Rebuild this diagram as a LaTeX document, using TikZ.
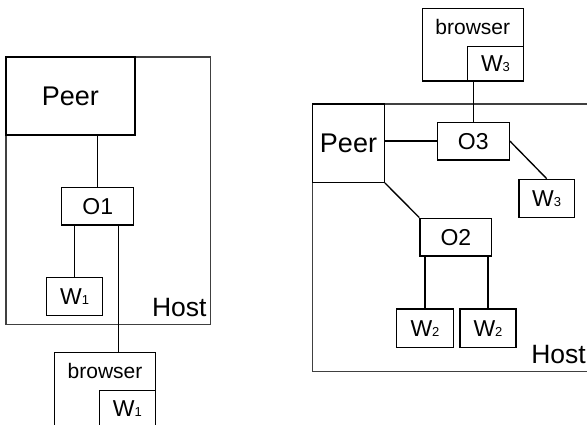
\documentclass[tikz,border=0pt]{standalone}
\usepackage{fontspec}
\setmainfont{Liberation Sans}
\newcommand\wsub[1]{W{\fontsize{13}{13}\selectfont #1}}
\tikzset{
  box/.style={draw, line width=1.35pt, inner sep=0pt, font=\fontsize{23}{23}\selectfont},
  peerbox/.style={box, font=\fontsize{27}{27}\selectfont},
  hostbox/.style={draw=black!75, line width=1.35pt, inner sep=0pt},
  hostlbl/.style={anchor=base east, inner sep=0pt, font=\fontsize{26.5}{26.5}\selectfont},
  brlbl/.style={anchor=base, inner sep=0pt, font=\fontsize{21}{21}\selectfont},
  conn/.style={line width=1.35pt}
}
\begin{document}
\begin{tikzpicture}[x=1pt,y=-1pt]
\useasboundingbox (0,0) rectangle (587,425);
\clip (0,0) rectangle (587,425);
% ---------- left ----------
\node[hostbox, minimum width=204.7pt, minimum height=267.3pt] (hostL) at (108.35,190.65) {};
\node[peerbox, minimum width=129pt, minimum height=78pt] (peerL) at (70.35,96) {Peer};
\node[box, minimum width=72pt, minimum height=37.7pt] (o1) at (97.7,206.2) {O1};
\node[box, minimum width=56pt, minimum height=38pt] (w1L) at (74.7,296.7) {\wsub{1}};
\node[hostlbl] (hostLlbl) at (206.7,316.7) {Host};
\node[box, minimum width=100.6pt, minimum height=73.7pt] (browserL) at (105,389.15) {};
\node[brlbl] (browserLlbl) at (105,378.3) {browser};
\node[box, minimum width=56pt, minimum height=35.3pt] (w1in) at (127.3,408.35) {\wsub{1}};
\draw[conn] (o1.north) -- (o1.north |- peerL.south);
\draw[conn] (w1L.north) -- (w1L.north |- o1.south);
\coordinate (o1b) at ([xshift=20.6pt]o1.south);
\draw[conn] (o1b) -- (o1b |- browserL.north);
% ---------- right ----------
\node[hostbox, minimum width=307.3pt, minimum height=267.7pt] (hostR) at (466.35,237.85) {};
\node[peerbox, minimum width=71.6pt, minimum height=78.3pt] (peerR) at (348.5,143.15) {Peer};
\node[box, minimum width=72pt, minimum height=37.7pt] (o3) at (473.3,141.15) {O3};
\node[box, minimum width=55.3pt, minimum height=38pt] (w3R) at (546.65,198.3) {\wsub{3}};
\node[box, minimum width=71.7pt, minimum height=37.7pt] (o2) at (455.85,237.15) {O2};
\node[box, minimum width=56.6pt, minimum height=38.3pt] (w2a) at (425,328.15) {\wsub{2}};
\node[box, minimum width=56pt, minimum height=38.3pt] (w2b) at (488,328.15) {\wsub{2}};
\node[hostlbl] (hostRlbl) at (586,363.4) {Host};
\node[box, minimum width=101pt, minimum height=72.7pt] (browserR) at (472.8,44.65) {};
\node[brlbl] (browserRlbl) at (472.8,34.3) {browser};
\node[box, minimum width=55.6pt, minimum height=34.3pt] (w3in) at (495.5,63.85) {\wsub{3}};
\draw[conn] (o3.north) -- (o3.north |- w3in.south);
\draw[conn] (o3.west) -- (o3.west -| peerR.east);
\draw[conn] (o3.east) -- (w3R.north);
\draw[conn] (peerR.south east) -- (o2.north west);
\draw[conn] (w2a.north) -- (w2a.north |- o2.south);
\draw[conn] (w2b.north) -- (w2b.north |- o2.south);
\end{tikzpicture}
\end{document}
